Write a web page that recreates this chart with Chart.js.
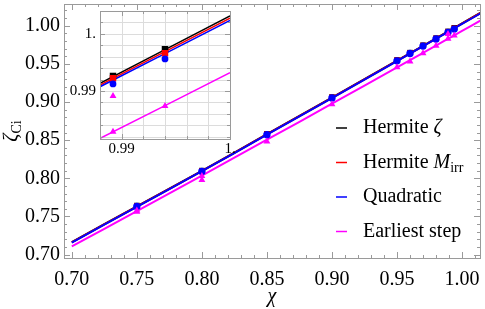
<!DOCTYPE html>
<html>
<head>
<meta charset="utf-8">
<script src="https://cdn.jsdelivr.net/npm/chart.js@4"></script>
<style>
  body { margin: 0; background: #fff; }
  #wrap { position: relative; width: 485px; height: 309px; }
  #main { position: absolute; left: 0; top: 0; }
  #inset { position: absolute; left: 55px; top: 0; }
</style>
</head>
<body>
<div id="wrap">
  <canvas id="main" width="485" height="309"></canvas>
  <canvas id="inset" width="180" height="165"></canvas>
</div>
<script>
// spins of the runs
const chi = [0.75, 0.80, 0.85, 0.90, 0.95, 0.96, 0.97, 0.98, 0.9892, 0.994];
const hermiteZeta = [0.7644, 0.8102, 0.8584, 0.9066, 0.9552, 0.9648, 0.9745, 0.9838, 0.99263, 0.99731];
const hermiteMirr = [0.7640, 0.8098, 0.8580, 0.9062, 0.9548, 0.9644, 0.9741, 0.9834, 0.99223, 0.99661];
const quadratic = [0.7632, 0.8090, 0.8572, 0.9054, 0.9540, 0.9636, 0.9733, 0.9826, 0.99123, 0.99561];
const earliestChi = [0.75, 0.75, 0.80, 0.80, 0.85, 0.90, 0.95, 0.96, 0.97, 0.98, 0.9892, 0.9892, 0.994];
const earliestStep = [0.7562, 0.7580, 0.8032, 0.7977, 0.8484, 0.8972, 0.9456, 0.9530, 0.9640, 0.9737, 0.98286, 0.98912, 0.98737];

// fit curves
const curveChi = [0.70, 0.75, 0.80, 0.85, 0.90, 0.95, 0.988, 1.00, 1.014];
const curveHermiteZeta = [0.7165, 0.7633, 0.8099, 0.8578, 0.9058, 0.9542, 0.99135, 1.00316, 1.0169];
const curveHermiteMirr = [0.7162, 0.7630, 0.8096, 0.8575, 0.9055, 0.9539, 0.99105, 1.00275, 1.0164];
const curveQuadratic = [0.7159, 0.7627, 0.8093, 0.8572, 0.9052, 0.9536, 0.99075, 1.00234, 1.0160];
const curveEarliest = [0.7107, 0.7571, 0.8037, 0.8506, 0.8978, 0.9454, 0.98170, 0.99321, 1.00665];

// tick labels
const xTicks = [0.70, 0.75, 0.80, 0.85, 0.90, 0.95, 1.00];
const yTicks = [0.70, 0.75, 0.80, 0.85, 0.90, 0.95, 1.00];
const insetXTicks = [0.99, 1.0];
const insetXLabels = ['0.99', '1.'];
const insetYTicks = [0.99, 1.0];
const insetYLabels = ['0.99', '1.'];

const legendItems = [
  { color: '#000000', parts: [['Hermite ', ''], ['ζ', 'italic']] },
  { color: '#ff0000', parts: [['Hermite ', ''], ['M', 'italic'], ['irr', 'sub']] },
  { color: '#0000ff', parts: [['Quadratic', '']] },
  { color: '#ff00ff', parts: [['Earliest step', '']] },
];

const SERIF = '"Liberation Serif", "Times New Roman", serif';
const pts = (xs, ys) => xs.map((x, i) => ({ x: x, y: ys[i] }));

function steps(min, max, step) {
  const out = [];
  for (let k = Math.ceil(min / step - 1e-6); k * step <= max + 1e-9; k++) out.push(k * step);
  return out;
}

function drawParts(ctx, parts, x, y, size) {
  for (const [t, st] of parts) {
    let fs = size, dy = 0, style = '';
    if (st === 'italic') style = 'italic ';
    if (st === 'sub') { fs = Math.round(size * 0.7); dy = size * 0.28; }
    ctx.font = style + fs + 'px ' + SERIF;
    ctx.fillText(t, x, y + dy);
    x += ctx.measureText(t).width;
  }
  return x;
}

function partsWidth(ctx, parts, size) {
  let w = 0;
  for (const [t, st] of parts) {
    const fs = st === 'sub' ? Math.round(size * 0.7) : size;
    ctx.font = (st === 'italic' ? 'italic ' : '') + fs + 'px ' + SERIF;
    w += ctx.measureText(t).width;
  }
  return w;
}

// frame, inward ticks and optional grid
const framePlugin = {
  id: 'frame',
  beforeDatasetsDraw(chart, args, o) {
    const { ctx, chartArea: a, scales: { x, y } } = chart;
    ctx.save();
    if (o.background) { ctx.fillStyle = o.background; ctx.fillRect(a.left, a.top, a.width, a.height); }
    if (o.gridStep) {
      ctx.strokeStyle = o.gridColor; ctx.lineWidth = 1;
      ctx.beginPath();
      for (const v of steps(x.min, x.max, o.gridStep)) {
        const px = Math.round(x.getPixelForValue(v)) + 0.5;
        ctx.moveTo(px, a.top); ctx.lineTo(px, a.bottom);
      }
      for (const v of steps(y.min, y.max, o.gridStep)) {
        const py = Math.round(y.getPixelForValue(v)) + 0.5;
        ctx.moveTo(a.left, py); ctx.lineTo(a.right, py);
      }
      ctx.stroke();
    }
    ctx.restore();
  },
  afterDatasetsDraw(chart, args, o) {
    const { ctx, chartArea: a, scales: { x, y } } = chart;
    ctx.save();
    ctx.strokeStyle = o.color; ctx.lineWidth = 1;
    ctx.beginPath();
    const near = (v, list) => list.some(t => Math.abs(t - v) < 1e-6);
    for (const v of steps(x.min, x.max, o.minorX)) {
      const px = Math.round(x.getPixelForValue(v)) + 0.5;
      const len = near(v, o.majorX) ? o.majLen : o.minLen;
      ctx.moveTo(px, a.bottom); ctx.lineTo(px, a.bottom - len);
      ctx.moveTo(px, a.top); ctx.lineTo(px, a.top + len);
    }
    for (const v of steps(y.min, y.max, o.minorY)) {
      const py = Math.round(y.getPixelForValue(v)) + 0.5;
      const len = near(v, o.majorY) ? o.majLen : o.minLen;
      ctx.moveTo(a.left, py); ctx.lineTo(a.left + len, py);
      ctx.moveTo(a.right, py); ctx.lineTo(a.right - len, py);
    }
    ctx.stroke();
    ctx.strokeRect(Math.round(a.left) + 0.5, Math.round(a.top) + 0.5, Math.round(a.width), Math.round(a.height));
    ctx.restore();
  }
};

// axis titles and legend of the main plot
const labelPlugin = {
  id: 'labels',
  afterDraw(chart) {
    const { ctx, chartArea: a } = chart;
    ctx.save();
    ctx.fillStyle = '#000';
    ctx.textBaseline = 'middle';
    // x title
    ctx.font = 'italic 20px ' + SERIF;
    ctx.textAlign = 'center';
    ctx.fillText('χ', (a.left + a.right) / 2, 297);
    ctx.textAlign = 'left';
    // y title
    const yParts = [['ζ', 'italic'], ['Ci', 'sub']];
    ctx.save();
    ctx.translate(12, (a.top + a.bottom) / 2);
    ctx.rotate(-Math.PI / 2);
    drawParts(ctx, yParts, -partsWidth(ctx, yParts, 20) / 2, 0, 20);
    ctx.restore();
    // legend
    legendItems.forEach((it, i) => {
      const yy = 128 + i * 34.5;
      ctx.strokeStyle = it.color; ctx.lineWidth = 1.5;
      ctx.beginPath(); ctx.moveTo(336, yy); ctx.lineTo(347, yy); ctx.stroke();
      ctx.fillStyle = '#000';
      drawParts(ctx, it.parts, 363, yy, 20);
    });
    ctx.restore();
  }
};

function makeDatasets(big) {
  const lw = big ? 2 : 1.5;
  const line = (ys, color, order, w) => ({
    data: pts(curveChi, ys), showLine: true, pointRadius: 0, borderColor: color,
    borderWidth: w, backgroundColor: color, order: order, tension: 0.4
  });
  const marks = (xs, ys, color, style, r, order) => ({
    data: pts(xs, ys), showLine: false, pointStyle: style, pointRadius: r,
    pointBorderWidth: 0, backgroundColor: color, borderColor: color, order: order
  });
  return [
    marks(earliestChi, earliestStep, '#ff00ff', 'triangle', 4, 1),
    marks(chi, quadratic, '#0000ff', 'circle', big ? 3.7 : 3.4, 2),
    marks(chi, hermiteMirr, '#ff0000', 'rect', big ? 3.9 : 4.6, 3),
    marks(chi, hermiteZeta, '#000000', 'rect', big ? 3.9 : 4.6, 4),
    line(curveEarliest, '#ff00ff', 5, lw),
    line(curveQuadratic, '#0000ff', 6, lw),
    line(curveHermiteMirr, '#ff0000', 7, lw),
    line(curveHermiteZeta, '#000000', 8, lw),
  ];
}

function axis(min, max, values, labels, size, pad, fit) {
  return {
    type: 'linear', min: min, max: max,
    grid: { display: false, drawTicks: false }, border: { display: false },
    afterBuildTicks: s => { s.ticks = values.map(v => ({ value: v })); },
    afterFit: s => {
      fit(s);
      s.paddingTop = 0; s.paddingBottom = 0; s.paddingLeft = 0; s.paddingRight = 0;
    },
    ticks: {
      autoSkip: false, maxRotation: 0, padding: pad, color: '#000',
      font: { family: SERIF, size: size },
      callback: v => {
        const i = values.findIndex(t => Math.abs(t - v) < 1e-9);
        return labels ? labels[i] : v.toFixed(2);
      }
    }
  };
}

new Chart(document.getElementById('main').getContext('2d'), {
  type: 'scatter',
  data: { datasets: makeDatasets(true) },
  options: {
    responsive: false, animation: false,
    layout: { padding: { top: 1, right: 5, left: 0, bottom: 0 } },
    plugins: {
      legend: { display: false }, tooltip: { enabled: false },
      frame: { color: '#9a9a9a', majorX: xTicks, majorY: yTicks, minorX: 0.01, minorY: 0.01, majLen: 6, minLen: 3 }
    },
    scales: {
      x: axis(0.694, 1.0138, xTicks, null, 20, 10, s => { s.height = 51; }),
      y: axis(0.6956, 1.0285, yTicks, null, 20, 4, s => { s.width = 64; })
    }
  },
  plugins: [framePlugin, labelPlugin]
});

new Chart(document.getElementById('inset').getContext('2d'), {
  type: 'scatter',
  data: { datasets: makeDatasets(false) },
  options: {
    responsive: false, animation: false,
    layout: { padding: { top: 11, right: 5, left: 0, bottom: 0 } },
    plugins: {
      legend: { display: false }, tooltip: { enabled: false },
      frame: { color: '#9a9a9a', background: '#ffffff', gridStep: 0.002, gridColor: '#dcdcdc',
               majorX: insetXTicks, majorY: insetYTicks, minorX: 0.002, minorY: 0.002, majLen: 5, minLen: 3 }
    },
    scales: {
      x: axis(0.988, 1.0, insetXTicks, insetXLabels, 15, 1, s => { s.height = 26; }),
      y: axis(0.9816, 1.004, insetYTicks, insetYLabels, 15, 4, s => { s.width = 45; })
    }
  },
  plugins: [framePlugin]
});
</script>
</body>
</html>
